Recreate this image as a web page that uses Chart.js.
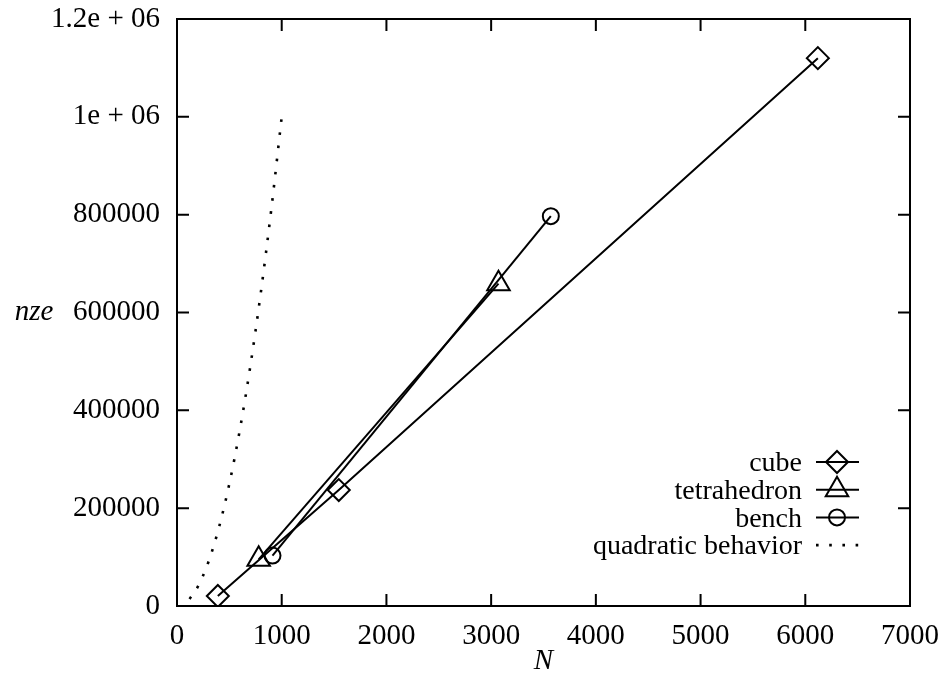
<!DOCTYPE html>
<html>
<head>
<meta charset="utf-8">
<script src="https://cdn.jsdelivr.net/npm/chart.js@4.4.0/dist/chart.umd.min.js"></script>
<style>
  body { margin: 0; background: #fff; }
  #plot { display: block; }
</style>
</head>
<body>
<canvas id="plot" width="944" height="681"></canvas>
<script>
// values
const cubeN = [390, 1545, 6120];
const cubeNze = [20500, 237000, 1120000];
const tetraN = [780, 3070];
const tetraNze = [95500, 659000];
const benchN = [912, 3570];
const benchNze = [103000, 797000];
const quadN = [120, 200, 300, 400, 500, 600, 700, 800, 900, 1000];
const quadNze = [14400, 40000, 90000, 160000, 250000, 360000, 490000, 640000, 810000, 1000000];

const seriesNames = ['cube', 'tetrahedron', 'bench', 'quadratic behavior'];
const xTicksMax = 7000;
const yTicksMax = 1200000;

const serif = '"Liberation Serif", "DejaVu Serif", serif';

function toPoints(xs, ys) {
    return xs.map((v, i) => ({x: v, y: ys[i]}));
}

function marker(ctx, style, x, y, r) {
    ctx.beginPath();
    if (style === 'rectRot') {
        ctx.moveTo(x - r, y); ctx.lineTo(x, y - r); ctx.lineTo(x + r, y); ctx.lineTo(x, y + r);
        ctx.closePath();
    } else if (style === 'triangle') {
        ctx.moveTo(x, y - r);
        ctx.lineTo(x + r * 0.866, y + r / 2);
        ctx.lineTo(x - r * 0.866, y + r / 2);
        ctx.closePath();
    } else if (style === 'circle') {
        ctx.arc(x, y, r, 0, Math.PI * 2);
    }
    ctx.stroke();
}

function noPad(s) {
    s.paddingLeft = 0; s.paddingRight = 0; s.paddingTop = 0; s.paddingBottom = 0;
}

// gnuplot-like box with inward ticks, y label and legend
const frame = {
    id: 'frame',
    afterDraw(chart) {
        const {ctx, chartArea: a, scales: {x, y}} = chart;
        ctx.save();
        ctx.strokeStyle = '#000';
        ctx.lineWidth = 2;
        ctx.strokeRect(a.left, a.top, a.right - a.left, a.bottom - a.top);
        ctx.beginPath();
        x.ticks.forEach(t => {
            const px = x.getPixelForValue(t.value);
            ctx.moveTo(px, a.bottom); ctx.lineTo(px, a.bottom - 12);
            ctx.moveTo(px, a.top); ctx.lineTo(px, a.top + 12);
        });
        y.ticks.forEach(t => {
            const py = y.getPixelForValue(t.value);
            ctx.moveTo(a.left, py); ctx.lineTo(a.left + 12, py);
            ctx.moveTo(a.right, py); ctx.lineTo(a.right - 12, py);
        });
        ctx.stroke();

        ctx.fillStyle = '#000';
        ctx.font = 'italic 29px ' + serif;
        ctx.textAlign = 'center';
        ctx.textBaseline = 'middle';
        ctx.fillText('nze', 34, y.getPixelForValue(600000));

        // legend
        ctx.font = '28px ' + serif;
        ctx.textAlign = 'right';
        chart.data.datasets.forEach((ds, i) => {
            const ly = 462 + i * 27.7;
            ctx.fillText(ds.label, 802, ly + 2);
            ctx.lineWidth = ds.borderWidth;
            ctx.setLineDash(ds.borderDash || []);
            ctx.beginPath();
            ctx.moveTo(816, ly);
            ctx.lineTo(859, ly);
            ctx.stroke();
            ctx.setLineDash([]);
            ctx.lineWidth = 2;
            if (ds.pointRadius > 0) marker(ctx, ds.pointStyle, 837, ly, ds.pointRadius);
        });
        ctx.restore();
    }
};

const lineStyle = {
    borderColor: '#000',
    borderWidth: 2,
    pointBorderColor: '#000',
    pointBackgroundColor: 'rgba(0,0,0,0)',
    pointBorderWidth: 2,
    fill: false,
    tension: 0
};

new Chart(document.getElementById('plot'), {
    type: 'line',
    data: {
        datasets: [
            Object.assign({label: seriesNames[0], data: toPoints(cubeN, cubeNze), pointStyle: 'rectRot', pointRadius: 11}, lineStyle),
            Object.assign({label: seriesNames[1], data: toPoints(tetraN, tetraNze), pointStyle: 'triangle', pointRadius: 13}, lineStyle),
            Object.assign({label: seriesNames[2], data: toPoints(benchN, benchNze), pointStyle: 'circle', pointRadius: 8}, lineStyle),
            Object.assign({}, lineStyle, {
                label: seriesNames[3],
                data: toPoints(quadN, quadNze),
                pointRadius: 0,
                borderWidth: 2.6,
                borderDash: [2.6, 10.6],
                cubicInterpolationMode: 'monotone'
            })
        ]
    },
    options: {
        responsive: false,
        animation: false,
        layout: {padding: {left: 0, top: 19, right: 34, bottom: 0}},
        plugins: {
            legend: {display: false},
            tooltip: {enabled: false}
        },
        scales: {
            x: {
                type: 'linear',
                min: 0,
                max: xTicksMax,
                grid: {display: false, drawTicks: false},
                border: {display: false},
                ticks: {stepSize: 1000, color: '#000', padding: 13, maxRotation: 0,
                    font: {family: serif, size: 29},
                    callback: v => String(v)},
                title: {display: true, text: 'N', color: '#000', padding: {top: 0, bottom: 2},
                    font: {family: serif, size: 29, style: 'italic'}},
                afterFit: s => { s.height = 75; noPad(s); }
            },
            y: {
                min: 0,
                max: yTicksMax,
                grid: {display: false, drawTicks: false},
                border: {display: false},
                ticks: {
                    stepSize: 200000, color: '#000', padding: 17,
                    font: {family: serif, size: 29},
                    callback: v => v >= 1000000 ? (v / 1000000) + 'e + 06' : String(v)
                },
                afterFit: s => { s.width = 177; noPad(s); }
            }
        }
    },
    plugins: [frame]
});
</script>
</body>
</html>
